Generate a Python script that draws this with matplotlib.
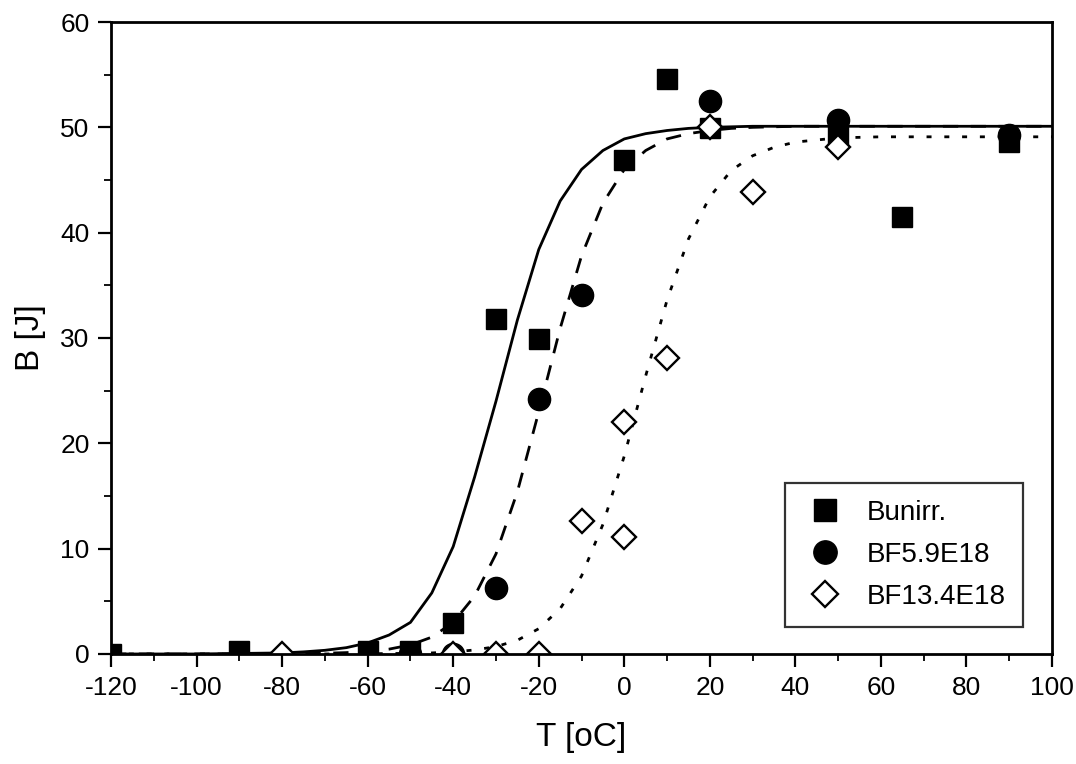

# Imports
from matplotlib import pyplot as plt
from matplotlib.ticker import MultipleLocator


# Measured absorbed energy per temperature
t_unirr = [-120, -90, -60, -50, -40, -30, -20, 0, 10, 20, 50, 65, 90]
b_unirr = [0.0, 0.3, 0.3, 0.3, 2.9, 31.8, 29.9, 46.9, 54.6, 49.9, 49.2, 41.5, 48.6]

t_bf59 = [-50, -40, -30, -20, -10, 20, 50, 90]
b_bf59 = [0.0, 0.0, 6.3, 24.2, 34.1, 52.5, 50.7, 49.3]

t_bf134 = [-80, -40, -30, -20, -10, 0, 0, 10, 20, 30, 50]
b_bf134 = [0.0, 0.0, 0.0, 0.0, 12.6, 22.0, 11.1, 28.1, 50.0, 43.9, 48.1]

# Fitted transition curves, sampled along the temperature axis
t_fit = [-120, -100, -80, -75, -70, -65, -60, -55, -50, -45, -40, -35, -30, -25,
	-20, -15, -10, -5, 0, 5, 10, 15, 20, 25, 30, 35, 40, 50, 60, 80, 100]
fit_unirr = [0.0, 0.0, 0.1, 0.2, 0.35, 0.6, 1.05, 1.8, 3.0, 5.8, 10.2, 16.8, 24.0, 31.7,
	38.4, 43.0, 46.0, 47.8, 48.9, 49.4, 49.7, 49.9, 50.0, 50.05, 50.1, 50.1, 50.1, 50.1, 50.1, 50.1, 50.1]
fit_bf59 = [0.0, 0.0, 0.02, 0.04, 0.07, 0.13, 0.24, 0.46, 0.86, 1.6, 3.0, 5.5, 9.5, 15.4,
	23.0, 30.9, 37.8, 42.8, 46.0, 47.8, 48.9, 49.4, 49.7, 49.9, 50.0, 50.05, 50.1, 50.1, 50.1, 50.1, 50.1]
fit_bf134 = [0.0, 0.0, 0.0, 0.0, 0.0, 0.01, 0.02, 0.04, 0.06, 0.1, 0.2, 0.38, 0.7, 1.3,
	2.4, 4.3, 7.4, 12.3, 18.8, 26.4, 33.6, 39.4, 43.4, 45.9, 47.3, 48.1, 48.6, 49.0, 49.1, 49.1, 49.1]

labels = ["Bunirr.", "BF5.9E18", "BF13.4E18"]


# Figure setup
plt.rcParams["font.family"] = ["Liberation Sans", "DejaVu Sans"]
plt.rcParams["axes.unicode_minus"] = False
fig = plt.figure(figsize = (10.76, 7.64), dpi = 100)
ax = fig.add_axes([0.1032, 0.144, 0.8745, 0.8272])

# Fit curves
ax.plot(t_fit, fit_unirr, color = "black", lw = 2.0, ls = "-")
ax.plot(t_fit, fit_bf59, color = "black", lw = 2.0, ls = (0, (5.5, 4.5)))
ax.plot(t_fit, fit_bf134, color = "black", lw = 2.0, ls = (0, (1.8, 4.6)))

# Data points
ax.plot(t_unirr, b_unirr, ls = "none", marker = "s", ms = 14.5, color = "black", label = labels[0])
ax.plot(t_bf59, b_bf59, ls = "none", marker = "o", ms = 16, color = "black", label = labels[1])
ax.plot(t_bf134, b_bf134, ls = "none", marker = "D", ms = 12.5, mfc = "white", mec = "black",
	mew = 1.7, label = labels[2])

# Axes limits and ticks
ax.set_xlim(-120, 100)
ax.set_ylim(0, 60)
ax.xaxis.set_major_locator(MultipleLocator(20))
ax.xaxis.set_minor_locator(MultipleLocator(10))
ax.yaxis.set_major_locator(MultipleLocator(10))
ax.yaxis.set_minor_locator(MultipleLocator(5))
ax.tick_params(which = "major", direction = "out", length = 9.5, width = 1.6, labelsize = 19, pad = 6)
ax.tick_params(which = "minor", direction = "out", length = 5, width = 1.3)
ax.tick_params(which = "both", top = False, right = False)
for spine in ax.spines.values():
	spine.set_linewidth(2.0)

# Labels
ax.set_xlabel("T [oC]", fontsize = 24, labelpad = 16)
ax.set_ylabel("B [J]", fontsize = 24, labelpad = 10)

# Legend
legend = ax.legend(loc = "lower right", bbox_to_anchor = (0.969, 0.043), borderaxespad = 0,
	fontsize = 20, frameon = True, fancybox = False, edgecolor = "black", handletextpad = 0.67,
	labelspacing = 0.58, borderpad = 0.6, markerscale = 1.05, handlelength = 1.68)
legend.get_frame().set_linewidth(1.6)

plt.savefig("out.png", dpi = 100)
